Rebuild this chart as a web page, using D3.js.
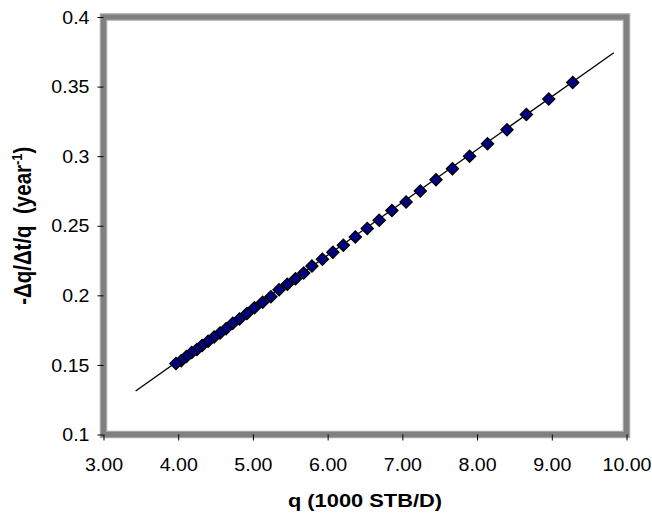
<!DOCTYPE html>
<html lang="en">
<head>
    <meta charset="UTF-8">
    <title>Decline rate vs rate</title>
    <script src="https://d3js.org/d3.v7.min.js"></script>
    <style>
        body {
            margin: 0;
            padding: 0;
            background-color: #fff;
            font-family: "Liberation Sans", Arial, sans-serif;
        }
        #chart text {
            fill: #000;
        }
    </style>
</head>
<body>
    <div id="chart"></div>

    <script>
        // Rate q (1000 STB/D) and decline -dq/dt/q (1/year)
        const rateQ = [9.28, 8.96, 8.66, 8.40, 8.14, 7.90, 7.67, 7.45, 7.24, 7.05,
                       6.86, 6.69, 6.53, 6.37, 6.21, 6.07, 5.93, 5.79, 5.68, 5.57,
                       5.46, 5.35, 5.24, 5.13, 5.02, 4.92, 4.82, 4.73, 4.64, 4.56,
                       4.48, 4.40, 4.32, 4.25, 4.18, 4.11, 4.04, 3.97];
        const declineD = [0.353, 0.341, 0.330, 0.319, 0.309, 0.300, 0.291, 0.283, 0.275, 0.267,
                          0.261, 0.254, 0.248, 0.242, 0.236, 0.231, 0.226, 0.221, 0.216, 0.212,
                          0.208, 0.204, 0.199, 0.195, 0.191, 0.187, 0.183, 0.180, 0.176, 0.173,
                          0.170, 0.167, 0.164, 0.161, 0.159, 0.156, 0.153, 0.151];

        // Straight trend line end points
        const trendQ = [3.43, 9.83];
        const trendD = [0.1312, 0.3743];

        // Axis ticks
        const xTicks = [3, 4, 5, 6, 7, 8, 9, 10];
        const yTicks = [0.1, 0.15, 0.2, 0.25, 0.3, 0.35, 0.4];

        const width = 652, height = 518;
        const plot = { left: 103.5, right: 626.5, top: 17, bottom: 434.5 };

        const svg = d3.select("#chart")
                      .append("svg")
                      .attr("width", width)
                      .attr("height", height);

        const x = d3.scaleLinear().domain([3, 10]).range([plot.left, plot.right]);
        const y = d3.scaleLinear().domain([0.1, 0.4]).range([plot.bottom, plot.top]);

        // Plot frame (thick grey border)
        svg.append("rect")
            .attr("x", plot.left)
            .attr("y", plot.top)
            .attr("width", plot.right - plot.left)
            .attr("height", plot.bottom - plot.top)
            .attr("fill", "#fff")
            .attr("stroke", "#a6a6a6")
            .attr("stroke-width", 7.5);
        svg.append("rect")
            .attr("x", plot.left)
            .attr("y", plot.top)
            .attr("width", plot.right - plot.left)
            .attr("height", plot.bottom - plot.top)
            .attr("fill", "none")
            .attr("stroke", "#808080")
            .attr("stroke-width", 5);

        // Axes
        const xAxis = svg.append("g")
            .attr("transform", `translate(0,${plot.bottom})`)
            .call(d3.axisBottom(x).tickValues(xTicks).tickSize(6).tickSizeOuter(0)
                    .tickFormat(d3.format(".2f")));
        xAxis.select(".domain").remove();
        xAxis.selectAll("line").attr("stroke", "#000");
        xAxis.selectAll("text")
            .attr("font-family", "Liberation Sans, Arial, sans-serif")
            .attr("font-size", 17.5)
            .attr("y", 0)
            .attr("dy", 0)
            .attr("transform", "translate(0,36) scale(1.12,1)");

        const yAxis = svg.append("g")
            .attr("transform", `translate(${plot.left},0)`)
            .call(d3.axisLeft(y).tickValues(yTicks).tickSize(6).tickSizeOuter(0)
                    .tickFormat(d3.format("~g")));
        yAxis.select(".domain").remove();
        yAxis.selectAll("line").attr("stroke", "#000");
        yAxis.selectAll("text")
            .attr("font-family", "Liberation Sans, Arial, sans-serif")
            .attr("font-size", 17.5)
            .attr("x", 0)
            .attr("dy", "0.35em")
            .attr("transform", "translate(-14,0) scale(1.12,1)");

        // Trend line
        const trend = trendQ.map((q, i) => [q, trendD[i]]);
        svg.append("path")
            .datum(trend)
            .attr("d", d3.line().x(d => x(d[0])).y(d => y(d[1])))
            .attr("fill", "none")
            .attr("stroke", "#000")
            .attr("stroke-width", 1.3);

        // Data points (diamonds)
        const points = rateQ.map((q, i) => ({ q: q, d: declineD[i] }));
        const diamond = d3.symbol().type(d3.symbolSquare).size(74);
        svg.append("g")
            .selectAll("path")
            .data(points)
            .enter()
            .append("path")
            .attr("d", diamond)
            .attr("transform", d => `translate(${x(d.q)},${y(d.d)}) rotate(45)`)
            .attr("fill", "#000080")
            .attr("stroke", "#000")
            .attr("stroke-width", 1.3);

        // Axis titles
        svg.append("text")
            .attr("transform", `translate(${(plot.left + plot.right) / 2},507) scale(1.15,1)`)
            .attr("text-anchor", "middle")
            .attr("font-size", 19)
            .attr("font-weight", "bold")
            .text("q (1000 STB/D)");

        const yTitle = svg.append("text")
            .attr("transform", `translate(31,${(plot.top + plot.bottom) / 2}) rotate(-90) scale(1,1.15)`)
            .attr("text-anchor", "middle")
            .attr("font-size", 20.5)
            .attr("font-weight", "bold");
        yTitle.append("tspan").text("-\u0394q/\u0394t/q\u00a0\u00a0(year");
        yTitle.append("tspan").attr("font-size", 13).attr("dy", -8).text("-1");
        yTitle.append("tspan").attr("dy", 8).text(")");
    </script>
</body>
</html>
